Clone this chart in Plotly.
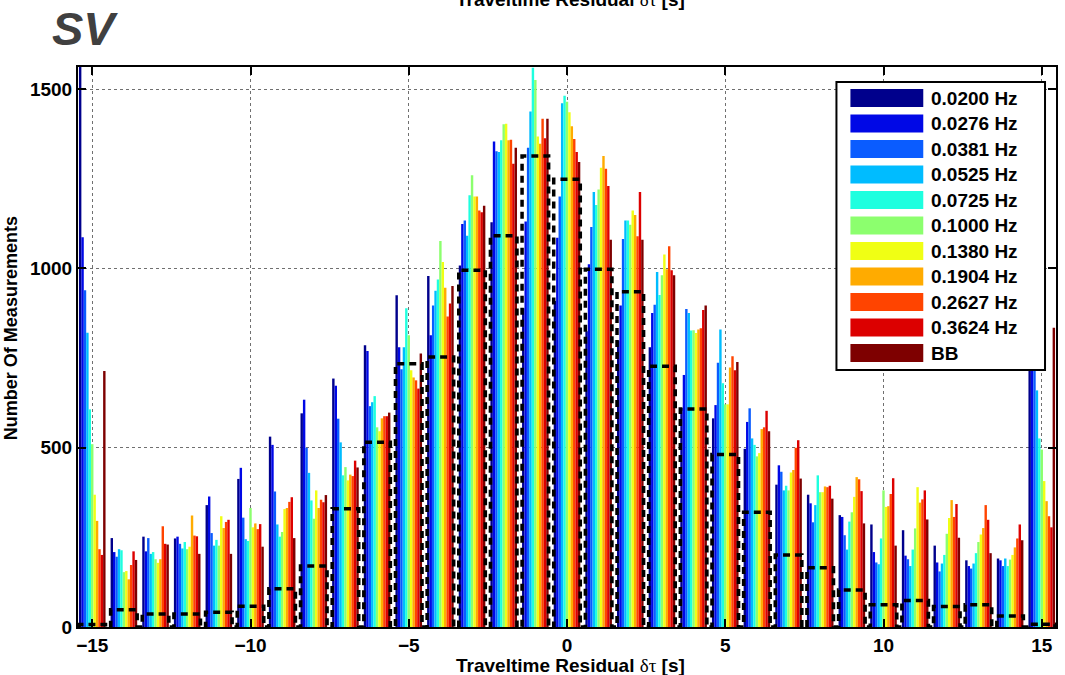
import plotly.graph_objects as go

# ---------------- data ----------------
bins = list(range(-15, 16))

f0200 = [1700, 248, 252, 247, 340, 413, 531, 596, 693, 786, 925, 979, 1008, 1129, 889, 909, 825, 799, 780, 611, 582, 497, 397, 369, 312, 286, 270, 227, 186, 191, 1200]
f0276 = [1087, 209, 211, 252, 364, 444, 508, 634, 673, 770, 780, 814, 1124, 1354, 1131, 1086, 1012, 897, 876, 703, 619, 572, 451, 345, 307, 209, 199, 180, 170, 186, 1000]
f0381 = [939, 196, 248, 232, 262, 305, 378, 500, 581, 616, 719, 897, 1134, 1327, 1337, 1201, 1116, 1082, 899, 887, 737, 610, 433, 292, 256, 180, 189, 155, 163, 170, 850]
f0525 = [821, 217, 204, 219, 227, 245, 286, 430, 515, 627, 780, 938, 1091, 1325, 1438, 1461, 1213, 1134, 990, 876, 830, 526, 381, 340, 216, 175, 170, 177, 177, 191, 660]
f0725 = [607, 214, 209, 237, 243, 240, 252, 353, 423, 644, 889, 969, 1204, 1358, 1560, 1482, 1177, 1134, 926, 827, 680, 508, 394, 423, 294, 247, 216, 201, 206, 170, 526]
f1000 = [510, 153, 189, 217, 227, 332, 265, 302, 446, 557, 814, 1077, 1260, 1402, 1526, 1465, 1220, 1122, 981, 828, 621, 476, 381, 376, 320, 381, 275, 260, 237, 188, 495]
f1380 = [369, 156, 179, 224, 309, 278, 329, 381, 409, 546, 716, 1018, 1201, 1404, 1368, 1436, 1281, 1162, 1039, 820, 621, 485, 431, 376, 363, 335, 390, 304, 258, 201, 407]
f1904 = [296, 133, 189, 311, 276, 289, 332, 332, 425, 582, 696, 946, 1201, 1358, 1348, 1397, 1314, 1149, 998, 830, 724, 552, 438, 392, 418, 337, 347, 354, 276, 222, 351]
f2627 = [217, 173, 281, 255, 293, 273, 349, 355, 421, 588, 688, 866, 1162, 1359, 1418, 1361, 1278, 1090, 1062, 833, 755, 557, 500, 390, 412, 371, 356, 307, 340, 247, 309]
f3624 = [201, 211, 232, 253, 299, 287, 362, 348, 464, 588, 665, 902, 1157, 1292, 1363, 1325, 1230, 1213, 995, 884, 716, 603, 521, 394, 379, 415, 381, 343, 299, 286, 278]
fBB = [714, 187, 230, 204, 204, 224, 248, 368, 445, 598, 763, 951, 1175, 1337, 1418, 1297, 1080, 1080, 981, 897, 739, 546, 414, 358, 289, 227, 300, 249, 206, 242, 835]

outline_counts = [7, 48, 36, 36, 41, 58, 107, 170, 330, 515, 734, 753, 995, 1091, 1314, 1249, 998, 935, 727, 608, 481, 320, 201, 165, 103, 62, 74, 57, 62, 31, 8]

series_labels = ["0.0200 Hz", "0.0276 Hz", "0.0381 Hz", "0.0525 Hz", "0.0725 Hz", "0.1000 Hz",
                 "0.1380 Hz", "0.1904 Hz", "0.2627 Hz", "0.3624 Hz", "BB"]
series_values = [f0200, f0276, f0381, f0525, f0725, f1000, f1380, f1904, f2627, f3624, fBB]
series_colors = ["#00008c", "#0008e6", "#0a5cff", "#00bcff", "#1effdf", "#8cff6e",
                 "#f0ff14", "#ffab00", "#ff4400", "#dc0000", "#7e0000"]

x_ticks = [-15, -10, -5, 0, 5, 10, 15]
y_ticks = [0, 500, 1000, 1500]

# ---------------- layout geometry ----------------
W, H = 1065, 675
ML, MR, MT, MB = 78, 7, 67, 48
PW = W - ML - MR
PH = H - MT - MB


def px(xp):
    return (xp - ML) / PW


def py(yp):
    return (H - MB - yp) / PH


FONT = "Liberation Sans, Arial, Helvetica, sans-serif"

fig = go.Figure()

for lab, vals, col in zip(series_labels, series_values, series_colors):
    fig.add_trace(go.Bar(x=bins, y=vals, name=lab, marker=dict(color=col, line=dict(width=0)),
                         showlegend=False))

# dashed outline histogram
half_w = 0.42
ox, oy = [], []
for b, v in zip(bins, outline_counts):
    ox += [b - half_w, b - half_w, b + half_w, b + half_w]
    oy += [0, v, v, 0]
fig.add_trace(go.Scatter(x=ox, y=oy, mode="lines", showlegend=False,
                         line=dict(color="black", width=3.5, dash="7px,5px")))

fig.update_layout(
    width=W, height=H,
    margin=dict(l=ML, r=MR, t=MT, b=MB),
    paper_bgcolor="white", plot_bgcolor="white",
    barmode="group", bargap=0.16, bargroupgap=0,
    font=dict(family=FONT, size=19, color="black", weight="bold"),
    showlegend=False,
)

axis_common = dict(
    showline=True, linecolor="black", linewidth=2, mirror="allticks",
    ticks="inside", ticklen=8, tickwidth=2, tickcolor="black",
    showgrid=True, gridcolor="#707070", gridwidth=1, griddash="dot",
    zeroline=False,
    tickfont=dict(family=FONT, size=19, color="black", weight="bold"),
)
fig.update_xaxes(range=[-15.45, 15.45], tickvals=x_ticks, **axis_common)
fig.update_yaxes(range=[0, 1562], tickvals=y_ticks, **axis_common)

label_txt = "Traveltime Residual <span style='font-family:Liberation Serif, Times New Roman, serif; font-weight:normal'>δτ</span> [s]"

annotations = [
    dict(text=label_txt, x=px(572), y=py(665), xref="paper", yref="paper",
         showarrow=False, xanchor="center", yanchor="middle",
         font=dict(family=FONT, size=19, color="black", weight="bold")),
    dict(text=label_txt, x=px(572), y=py(-1), xref="paper", yref="paper",
         showarrow=False, xanchor="center", yanchor="middle",
         font=dict(family=FONT, size=19, color="black", weight="bold")),
    dict(text="Number Of Measurements", x=px(11), y=py(328), xref="paper", yref="paper",
         showarrow=False, xanchor="center", yanchor="middle", textangle=-90,
         font=dict(family=FONT, size=18, color="black", weight="bold")),
    dict(text="<b><i>SV</i></b>", x=px(85), y=py(28), xref="paper", yref="paper",
         showarrow=False, xanchor="center", yanchor="middle",
         font=dict(family=FONT, size=47, color="#404040")),
]

# manual legend (wide swatches like the original)
shapes = [dict(type="rect", xref="paper", yref="paper",
               x0=px(838), x1=px(1047), y0=py(82), y1=py(370),
               fillcolor="white", line=dict(color="black", width=2), layer="above")]
for i, (lab, col) in enumerate(zip(series_labels, series_colors)):
    cy = 98 + 25.5 * i
    shapes.append(dict(type="rect", xref="paper", yref="paper",
                       x0=px(852), x1=px(925), y0=py(cy - 9), y1=py(cy + 9),
                       fillcolor=col, line=dict(width=0), layer="above"))
    annotations.append(dict(text=lab, x=px(931), y=py(cy), xref="paper", yref="paper",
                            showarrow=False, xanchor="left", yanchor="middle",
                            font=dict(family=FONT, size=19, color="black", weight="bold")))

fig.update_layout(shapes=shapes, annotations=annotations)

fig.write_html("out.html")
